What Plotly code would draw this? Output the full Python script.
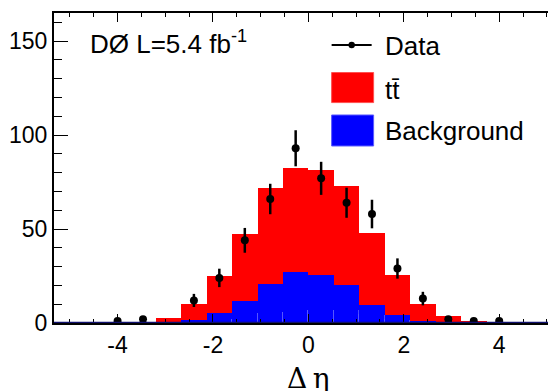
import plotly.graph_objects as go

# ---- data ----
bin_centers = [-5.067, -4.533, -4.0, -3.467, -2.933, -2.4, -1.867, -1.333, -0.8, -0.267,
               0.267, 0.8, 1.333, 1.867, 2.4, 2.933, 3.467, 4.0, 4.533, 5.067]
bin_width = 0.5333

total_pred = [0, 0, 0.2, 0.3, 2.7, 10.2, 25.2, 47.3, 71.9, 82.7,
              81.6, 72.8, 48.0, 25.4, 10.3, 3.5, 0.8, 0.2, 0, 0]
background = [0, 0, 0, 0.1, 0.4, 1.6, 5.3, 11.5, 20.8, 27.0,
              25.6, 20.0, 9.5, 4.0, 1.2, 0.5, 0.2, 0, 0, 0]
bg_inner = [0, 0, 0, 0, 0.2, 0.6, 2.0, 5.3, 5.8, 6.7,
            6.8, 7.0, 4.4, 1.8, 0.6, 0.2, 0, 0, 0, 0]

data_x = [-4.0, -3.467, -2.4, -1.867, -1.333, -0.8, -0.267, 0.267, 0.8, 1.333,
          1.867, 2.4, 2.933, 3.467, 4.0]
data_y = [1, 2, 12, 24, 44, 66, 93, 77, 64, 58, 29, 13, 2, 1, 1]
data_err = [1.0, 1.4, 3.5, 4.9, 6.6, 8.1, 9.6, 8.8, 8.0, 7.6, 5.4, 3.6, 1.4, 1.0, 1.0]

x_ticks = [-4, -2, 0, 2, 4]
y_ticks = [0, 50, 100, 150]

ttbar = [t - b for t, b in zip(total_pred, background)]
bg_outer = [b - i for b, i in zip(background, bg_inner)]

RED = "#ff0000"
BLUE = "#0000ff"
NAVY = "#10106e"
FONT = "Liberation Sans, Arial, sans-serif"

fig = go.Figure()
fig.add_trace(go.Bar(x=bin_centers, y=bg_inner, width=bin_width, marker_color=BLUE,
                     marker_line=dict(color="rgba(90,90,255,0.8)", width=1), showlegend=False))
fig.add_trace(go.Bar(x=bin_centers, y=bg_outer, width=bin_width, marker_color=BLUE,
                     marker_line_width=0, showlegend=False))
fig.add_trace(go.Bar(x=bin_centers, y=ttbar, width=bin_width, marker_color=RED,
                     marker_line_width=0, showlegend=False))
fig.add_trace(go.Scatter(x=data_x, y=data_y, mode="markers",
                         marker=dict(color="black", size=8),
                         error_y=dict(type="data", array=data_err, color="black",
                                      thickness=2.5, width=0),
                         showlegend=False))

fig.update_layout(
    width=548, height=391,
    margin=dict(l=54, r=0, t=13, b=68),
    paper_bgcolor="white", plot_bgcolor="white",
    barmode="stack", bargap=0,
    showlegend=False,
    font=dict(family=FONT, size=23, color="black"),
)
fig.update_xaxes(
    range=[-5.333, 5.023], tickvals=x_ticks, ticktext=[str(v) for v in x_ticks],
    ticks="inside", ticklen=9, tickwidth=1.3, tickcolor="black",
    minor=dict(dtick=0.5, tick0=0, ticks="inside", ticklen=4, tickwidth=1.3, tickcolor="black"),
    showline=True, linecolor="black", linewidth=2, mirror="allticks",
    showgrid=False, zeroline=False, layer="above traces",
    tickfont=dict(family=FONT, size=23),
)
fig.update_yaxes(
    range=[0, 165], tickvals=y_ticks, ticktext=[str(v) for v in y_ticks],
    ticks="inside", ticklen=14, tickwidth=1.3, tickcolor="black",
    minor=dict(dtick=10, tick0=0, ticks="inside", ticklen=8, tickwidth=1.3, tickcolor="black"),
    showline=True, linecolor="black", linewidth=2, mirror=False,
    showgrid=False, zeroline=False, layer="above traces",
    tickfont=dict(family=FONT, size=23),
)
# short right-hand stubs of the mirrored y ticks
fig.update_layout(yaxis2=dict(overlaying="y", side="right", anchor="x", range=[0, 165],
                              tickvals=y_ticks, ticks="inside", ticklen=4, tickwidth=1.3,
                              tickcolor="black", showticklabels=False, showline=False,
                              showgrid=False, zeroline=False))

# navy base line of the histogram
fig.add_shape(type="line", xref="paper", yref="y", x0=0, x1=1, y0=0, y1=0,
              line=dict(color=NAVY, width=2.5), layer="above")

# axis title
fig.add_annotation(text="Δ\u2009η", xref="x", yref="paper", x=0, y=-0.178,
                   showarrow=False, xanchor="center", yanchor="middle",
                   font=dict(family="DejaVu Serif, Liberation Serif, serif", size=28, color="black"))

# experiment label
fig.add_annotation(text="DØ L=5.4 fb<sup>-1</sup>", xref="paper", yref="paper",
                   x=0.069, y=0.905, showarrow=False, xanchor="left", yanchor="middle",
                   font=dict(family=FONT, size=26, color="black"))

# hand-drawn legend
lx0, lx1 = 0.562, 0.647
fig.add_shape(type="line", xref="paper", yref="paper", x0=lx0, x1=0.643, y0=0.897, y1=0.897,
              line=dict(color="black", width=2))
fig.add_shape(type="circle", xref="paper", yref="paper",
              x0=0.6026 - 0.0065, x1=0.6026 + 0.0065, y0=0.897 - 0.0105, y1=0.897 + 0.0105,
              fillcolor="black", line=dict(color="black", width=0))
fig.add_shape(type="rect", xref="paper", yref="paper", x0=lx0, x1=lx1, y0=0.711, y1=0.808,
              fillcolor=RED, line=dict(color="rgba(255,80,80,1)", width=1))
fig.add_shape(type="rect", xref="paper", yref="paper", x0=lx0, x1=lx1, y0=0.571, y1=0.671,
              fillcolor=BLUE, line=dict(color="rgba(90,90,255,1)", width=1))
for txt, yy in [("Data", 0.893), ("tt\u0304", 0.752), ("Background", 0.618)]:
    fig.add_annotation(text=txt, xref="paper", yref="paper", x=0.665, y=yy,
                       showarrow=False, xanchor="left", yanchor="middle",
                       font=dict(family=FONT, size=26, color="black"))

fig.write_html("out.html")
